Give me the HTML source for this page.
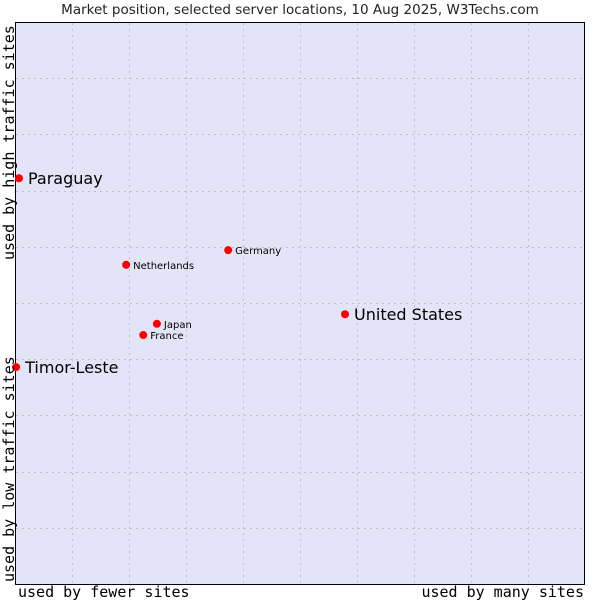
<!DOCTYPE html>
<html><head><meta charset="utf-8"><style>
body{margin:0;background:#fff;width:600px;height:600px;overflow:hidden}
svg text{font-family:"DejaVu Sans","Liberation Sans",sans-serif}
.mono{font-family:"DejaVu Sans Mono","Liberation Mono",monospace}
</style></head><body>
<svg id="chart" width="600" height="600">
<text x="300" y="14" text-anchor="middle" font-size="13.5" fill="#222">Market position, selected server locations, 10 Aug 2025, W3Techs.com</text>
<rect x="15.5" y="22.5" width="569" height="562" fill="#e4e4f8" stroke="#000"/>
<g id="grid"></g>
<g id="pts"></g>
<text class="mono" x="18" y="597" font-size="15" fill="#000">used by fewer sites</text>
<text class="mono" x="584" y="597" font-size="15" fill="#000" text-anchor="end">used by many sites</text>
<text class="mono" transform="translate(14,582) rotate(-90)" font-size="15" fill="#000">used by low traffic sites</text>
<text class="mono" transform="translate(14,260) rotate(-90)" font-size="15" fill="#000">used by high traffic sites</text>
</svg>
<script>
const names=["Paraguay","Timor-Leste","United States","Germany","Netherlands","Japan","France"];
const xVals=[0.07,0.02,5.79,3.74,1.95,2.49,2.25];
const yVals=[7.22,3.86,4.80,5.94,5.68,4.63,4.43];
const bigLabel=[true,true,true,false,false,false,false];
const gridTicks=[1,2,3,4,5,6,7,8,9];
const X=v=>15+v*57, Y=v=>584-v*56.2;
const NS="http://www.w3.org/2000/svg";
const g=document.getElementById('grid'), p=document.getElementById('pts');
gridTicks.forEach(t=>{
 const a=document.createElementNS(NS,'line');
 a.setAttribute('x1',X(t)+0.5);a.setAttribute('x2',X(t)+0.5);a.setAttribute('y1',23);a.setAttribute('y2',584);
 a.setAttribute('stroke','#c0c0c0');a.setAttribute('stroke-dasharray','2,4');
 
 
 g.appendChild(a);
 const b=document.createElementNS(NS,'line');
 b.setAttribute('y1',Math.round(Y(t))+0.5);b.setAttribute('y2',Math.round(Y(t))+0.5);b.setAttribute('x1',16);b.setAttribute('x2',584);
 b.setAttribute('stroke','#c0c0c0');b.setAttribute('stroke-dasharray','2,4');
 
 
 g.appendChild(b);
});
names.forEach((n,i)=>{
 const x=X(xVals[i]),y=Y(yVals[i]);
 const c=document.createElementNS(NS,'circle');
 c.setAttribute('cx',x);c.setAttribute('cy',y);c.setAttribute('r',4);c.setAttribute('fill','#f00');
 
 
 p.appendChild(c);
 const t=document.createElementNS(NS,'text');
 t.setAttribute('x',x+(bigLabel[i]?9:7));t.setAttribute('y',y+(bigLabel[i]?6:4));
 t.setAttribute('font-size',bigLabel[i]?16:10);t.setAttribute('fill','#000');
 t.textContent=n;
 
 
 p.appendChild(t);
});
</script>
</body></html>
